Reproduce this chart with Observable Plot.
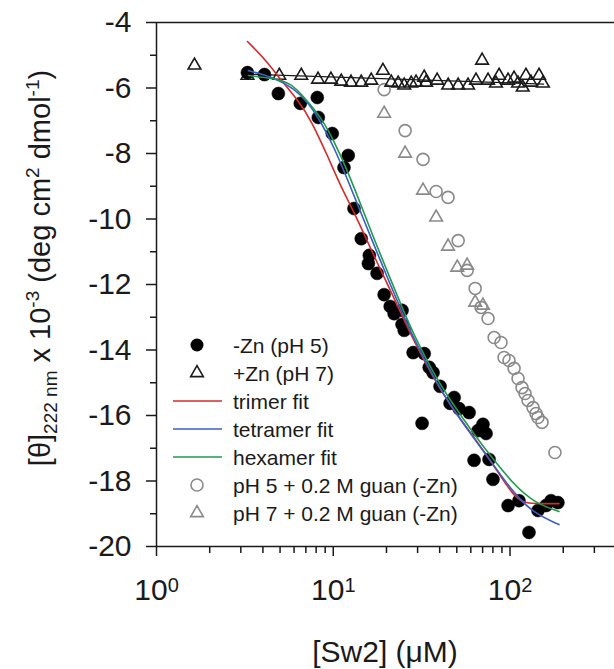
<!DOCTYPE html>
<html><head><meta charset="utf-8">
<script src="https://cdn.jsdelivr.net/npm/d3@7"></script>
<script src="https://cdn.jsdelivr.net/npm/@observablehq/plot@0.6"></script>
<style>
body{margin:0;background:#fff}
#chart{position:relative;width:614px;height:669px}
</style>
</head><body><div id="chart"></div>
<script>
// -Zn (pH 5) : filled black circles
const noZnX = [3.27,4.08,4.89,6.51,8.12,8.23,9.87,12.15,11.5,13.1,14.4,16.0,15.8,17.7,19.4,21.0,24.5,22.1,24.5,25.2,28.3,32.7,34.9,36.7,40.2,48.3,45.8,51.5,58.7,31.8,70.3,65.9,73.2,62.6,76.1,80.1,97.5,112.4,143.9,128,159.7,170.6,186.6];
const noZnY = [-5.53,-5.59,-6.17,-6.47,-6.29,-6.90,-7.39,-8.06,-8.43,-9.68,-10.60,-11.11,-11.36,-11.66,-12.31,-12.67,-12.79,-12.89,-13.22,-13.40,-14.08,-14.11,-14.53,-14.69,-15.11,-15.45,-15.63,-15.79,-15.91,-16.24,-16.27,-16.46,-16.55,-17.37,-17.34,-17.95,-18.75,-18.60,-18.90,-19.57,-18.75,-18.60,-18.66];
// +Zn (pH 7) : open black triangles
const znX = [1.64,3.27,4.95,6.59,8.2,9.7,11.1,12.6,14.4,16.4,19.1,21.3,23.3,25.2,27.6,29.4,32.7,33.5,38.7,44.7,50.9,57.9,64.2,69.5,75.1,83.3,86.7,97.5,105.4,111,118,123,131.4,145.9,153.5];
const znY = [-5.31,-5.62,-5.62,-5.62,-5.74,-5.74,-5.80,-5.83,-5.83,-5.77,-5.47,-5.83,-5.86,-5.92,-5.86,-5.83,-5.68,-5.83,-5.77,-5.92,-5.92,-5.92,-5.77,-5.16,-5.77,-5.86,-5.62,-5.77,-5.71,-5.86,-5.98,-5.62,-5.83,-5.62,-5.86];
// straight line through the +Zn data
const znLineX = [3.3, 155];
const znLineY = [-5.58, -5.88];
// pH 5 + 0.2 M guan (-Zn) : open gray circles
const guan5X = [19.4,25.5,32.2,38.2,44.6,50.9,57.2,63.5,68.6,75.1,81.3,88.9,92.5,98.7,105.4,111,116.9,121.6,126.4,135,140.3,143.9,151.7,179.5];
const guan5Y = [-6.05,-7.30,-8.18,-9.16,-9.34,-10.66,-11.57,-12.12,-12.70,-13.04,-13.62,-13.77,-14.23,-14.32,-14.56,-14.87,-15.15,-15.33,-15.54,-15.76,-15.94,-16.06,-16.21,-17.13];
// pH 7 + 0.2 M guan (-Zn) : open gray triangles
const guan7X = [19.4,25.5,32.2,38.2,44.6,50.3,57.2,63.5,70.3];
const guan7Y = [-6.78,-8.0,-9.13,-9.95,-10.84,-11.48,-11.42,-12.55,-12.64];
// fits
const trimerX = [3.27,4.18,5.08,6.34,7.51,9.37,11.1,13.49,17.05,20.45,24.23,28.69,37.21,46.42,62.6,81.2,105.3,123.1,149.6,189.2];
const trimerY = [-4.58,-5.16,-5.77,-6.38,-6.99,-8.12,-9.04,-9.92,-11.15,-12.03,-12.89,-13.74,-14.90,-15.73,-16.67,-17.53,-18.50,-18.69,-18.69,-18.69];
const tetramerX = [3.31,4.64,6.02,7.22,8.55,10.13,12.15,14.39,17.05,20.45,24.23,28.69,37.21,46.42,62.6,81.2,105.3,136.6,189.2];
const tetramerY = [-5.47,-5.68,-6.02,-6.44,-7.05,-7.82,-8.85,-9.83,-10.81,-11.85,-12.79,-13.68,-14.87,-15.73,-16.70,-17.53,-18.38,-18.99,-19.33];
const hexamerX = [3.31,4.64,5.79,6.86,8.55,10.13,12.15,14.39,17.05,20.45,24.23,28.69,37.21,46.42,62.6,81.2,105.3,136.6,189.2];
const hexamerY = [-5.62,-5.71,-5.86,-6.29,-6.90,-7.63,-8.58,-9.59,-10.63,-11.66,-12.64,-13.56,-14.75,-15.57,-16.58,-17.37,-18.11,-18.66,-18.93];
// ticks
const xMajorTicks = [1, 10, 100];
const xMinorTicks = [2,3,4,5,6,7,8,9,20,30,40,50,60,70,80,90,200,300];
const yMajorTicks = [-4,-6,-8,-10,-12,-14,-16,-18,-20];
const yMinorTicks = [-5,-7,-9,-11,-13,-15,-17,-19];
const legendLabels = ["-Zn (pH 5)","+Zn (pH 7)","trimer fit","tetramer fit","hexamer fit","pH 5 + 0.2 M guan (-Zn)","pH 7 + 0.2 M guan (-Zn)"];

const zip = (xs, ys) => xs.map((x, i) => ({x, y: ys[i]}));
const RED = "#d42a2a", BLUE = "#3c5ec4", GREEN = "#1f9a50", GRAY = "#8a8a8a", INK = "#1a1a1a";
const TRI_R = 4.7;
const FONT = "'Liberation Sans', Arial, sans-serif";

const plot = Plot.plot({
  width: 614, height: 669,
  marginLeft: 156, marginRight: 0, marginTop: 22, marginBottom: 123,
  x: {type: "log", domain: [1, 390]},
  y: {domain: [-20, -4]},
  style: {fontFamily: FONT, fontSize: "30px", color: INK, background: "white", overflow: "visible"},
  marks: [
    Plot.axisX({ticks: xMajorTicks, tickSize: 10, tickPadding: 22, strokeWidth: 1.5,
      tickFormat: d => "10^" + Math.round(Math.log10(d)), label: null}),
    Plot.axisX({ticks: xMinorTicks, tickSize: 7, strokeWidth: 1.5, tickFormat: () => "", label: null}),
    Plot.axisY({ticks: yMajorTicks, tickSize: 10, tickPadding: 15, strokeWidth: 1.5,
      tickFormat: d => String(d), label: null}),
    Plot.axisY({ticks: yMinorTicks, tickSize: 6, strokeWidth: 1.5, tickFormat: () => "", label: null}),
    Plot.ruleX([1], {stroke: INK, strokeWidth: 1.5}),
    Plot.ruleY([-20, -4], {stroke: INK, strokeWidth: 1.5}),
    Plot.dot(zip(guan5X, guan5Y), {x: "x", y: "y", r: 6, stroke: GRAY, strokeWidth: 1.6, fill: "none"}),
    Plot.dot(zip(guan7X, guan7Y), {x: "x", y: "y", r: TRI_R, symbol: "triangle", stroke: GRAY, strokeWidth: 1.6, fill: "none"}),
    Plot.line(zip(znLineX, znLineY), {x: "x", y: "y", stroke: INK, strokeWidth: 1.2}),
    Plot.dot(zip(znX, znY), {x: "x", y: "y", r: TRI_R, symbol: "triangle", stroke: INK, strokeWidth: 1.6, fill: "none"}),
    Plot.dot(zip(noZnX, noZnY), {x: "x", y: "y", r: 6.5, fill: "black", stroke: "black", strokeWidth: 0.5}),
    Plot.line(zip(trimerX, trimerY), {x: "x", y: "y", stroke: RED, strokeWidth: 1.6, curve: "basis"}),
    Plot.line(zip(tetramerX, tetramerY), {x: "x", y: "y", stroke: BLUE, strokeWidth: 1.6, curve: "basis"}),
    Plot.line(zip(hexamerX, hexamerY), {x: "x", y: "y", stroke: GREEN, strokeWidth: 1.6, curve: "basis"})
  ]
});
document.getElementById("chart").appendChild(plot);

const svg = d3.select(plot);
const NS = "http://www.w3.org/2000/svg";
// superscript exponents on x tick labels
plot.querySelectorAll("text").forEach(t => {
  const m = /^10\^(\d)$/.exec(t.textContent);
  if (!m) return;
  t.textContent = "";
  const a = document.createElementNS(NS, "tspan"); a.textContent = "10"; t.appendChild(a);
  const b = document.createElementNS(NS, "tspan"); b.textContent = m[1];
  b.setAttribute("dy", "-8"); b.setAttribute("font-size", "20"); t.appendChild(b);
});

// y axis label with sub/superscripts
const yl = svg.append("text")
  .attr("transform", "translate(50,268) rotate(-90)")
  .attr("text-anchor", "middle")
  .attr("font-family", FONT)
  .attr("font-size", 29).attr("fill", INK);
const parts = [
  ["[θ]", 0], ["222 nm", 1], [" x 10", 0], ["-3", 2], [" (deg cm", 0], ["2", 2], [" dmol", 0], ["-1", 2], [")", 0]
];
let shift = 0;
parts.forEach(([s, k]) => {
  const target = k === 1 ? 7 : k === 2 ? -11 : 0;
  const ts = yl.append("tspan").text(s).attr("dy", target - shift);
  if (k) ts.attr("font-size", 19);
  shift = target;
});

// x axis label
svg.append("text")
  .attr("x", 385).attr("y", 662)
  .attr("text-anchor", "middle")
  .attr("font-family", FONT)
  .attr("font-size", 30).attr("fill", INK)
  .text("[Sw2] (μM)");

// legend
const lg = svg.append("g").attr("font-family", FONT).attr("font-size", 21).attr("fill", INK).attr("text-anchor", "start");
const triPath = d3.symbol(d3.symbolTriangle, TRI_R * TRI_R * Math.PI)();
legendLabels.forEach((label, i) => {
  const y = 345 + i * 28;
  const g = lg.append("g").attr("transform", `translate(197,${y})`);
  if (i === 0) g.append("circle").attr("r", 6.5).attr("fill", "black");
  if (i === 1) g.append("path").attr("d", triPath).attr("fill", "none").attr("stroke", INK).attr("stroke-width", 1.6);
  if (i >= 2 && i <= 4) g.append("line").attr("x1", -24).attr("x2", 25).attr("stroke", [RED, BLUE, GREEN][i - 2]).attr("stroke-width", 1.6);
  if (i === 5) g.append("circle").attr("r", 6).attr("fill", "none").attr("stroke", GRAY).attr("stroke-width", 1.6);
  if (i === 6) g.append("path").attr("d", triPath).attr("fill", "none").attr("stroke", GRAY).attr("stroke-width", 1.6);
  lg.append("text").attr("x", 233).attr("y", y).attr("dy", "0.36em").attr("text-anchor", "start").text(label);
});
</script>
</body></html>
